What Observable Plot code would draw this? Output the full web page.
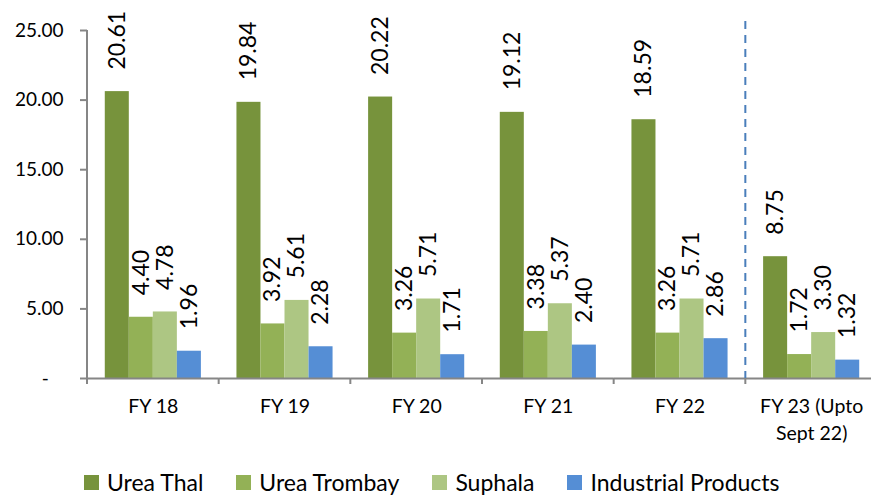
<!DOCTYPE html>
<html><head><meta charset="utf-8">
<script src="https://cdn.jsdelivr.net/npm/d3@7"></script>
<script src="https://cdn.jsdelivr.net/npm/@observablehq/plot@0.6"></script>
<style>
html,body{margin:0;padding:0;background:#fff;overflow:hidden;width:871px;height:496px;}
#chart{position:relative;width:871px;height:496px;}
#chart svg{display:block;}
.legend{position:absolute;left:84px;top:469px;display:flex;align-items:center;font-family:Lato,sans-serif;font-size:23px;color:#000;line-height:26px;white-space:nowrap;}
.legend .item{display:flex;align-items:center;margin-right:33px;}
.legend .sw{width:15px;height:15px;margin-right:8px;flex:none;}
</style></head><body><div id="chart"></div>
<script>
const categories = ["FY 18","FY 19","FY 20","FY 21","FY 22","FY 23 (Upto\nSept 22)"];
const series = ["Urea Thal","Urea Trombay","Suphala","Industrial Products"];
const ureaThal = [20.61,19.84,20.22,19.12,18.59,8.75];
const ureaTrombay = [4.40,3.92,3.26,3.38,3.26,1.72];
const suphala = [4.78,5.61,5.71,5.37,5.71,3.30];
const industrial = [1.96,2.28,1.71,2.40,2.86,1.32];
const colors = ["#77933C","#93B156","#ADC683","#558ED5"];
const yTicks = [0,5,10,15,20,25];

const valuesBySeries = [ureaThal, ureaTrombay, suphala, industrial];
const rows = [];
categories.forEach((cat, i) => {
  series.forEach((s, j) => rows.push({cat, series: s, value: valuesBySeries[j][i]}));
});

const plot = Plot.plot({
  width: 871, height: 452,
  marginLeft: 87, marginRight: -6, marginTop: 30, marginBottom: 74,
  style: {fontFamily: "Lato, sans-serif", fontSize: "19px", color: "#000", background: "#fff", overflow: "visible"},
  fx: {domain: categories, padding: 0, round: false, label: null},
  x: {domain: series, paddingInner: 0, paddingOuter: 0.74, round: false, axis: null},
  y: {domain: [0, 25], label: null},
  color: {domain: series, range: colors},
  marks: [
    Plot.barY(rows, {fx: "cat", x: "series", y: "value", fill: "series"}),
    Plot.ruleY([0], {stroke: "#868686", strokeWidth: 2}),
    Plot.text(rows, {fx: "cat", x: "series", y: "value", text: d => d.value.toFixed(2), rotate: -90, textAnchor: "start", dy: -22, fontSize: 23, fill: "#000"}),
    Plot.axisY({ticks: yTicks, tickFormat: d => d === 0 ? "-\u00a0\u00a0\u00a0" : d.toFixed(2), tickSize: 7, tickPadding: 17, stroke: "#868686", strokeWidth: 2, fontSize: 19, label: null}),
    Plot.axisFx({anchor: "bottom", tickSize: 0, tickPadding: 15, fontSize: 19.5, lineHeight: 1.4, label: null})
  ]
});

const fx = plot.scale("fx"), y = plot.scale("y");
const y0 = y.apply(0), yTop = y.apply(25);
const g = d3.select(plot).append("g");
const x0 = fx.apply(categories[0]);
g.append("line").attr("x1", x0).attr("x2", x0).attr("y1", yTop).attr("y2", y0)
  .attr("stroke", "#868686").attr("stroke-width", 2);
categories.forEach(c => {
  const xb = fx.apply(c);
  g.append("line").attr("x1", xb).attr("x2", xb).attr("y1", y0).attr("y2", y0 + 6)
    .attr("stroke", "#868686").attr("stroke-width", 2);
});
const xd = fx.apply(categories[categories.length - 1]);
g.append("line").attr("x1", xd).attr("x2", xd).attr("y1", yTop - 9).attr("y2", y0)
  .attr("stroke", "#4A7EBB").attr("stroke-width", 2).attr("stroke-dasharray", "8,6");

const chart = document.getElementById("chart");
chart.appendChild(plot);
const legend = document.createElement("div");
legend.className = "legend";
series.forEach((s, i) => {
  const item = document.createElement("div");
  item.className = "item";
  const sw = document.createElement("span");
  sw.className = "sw"; sw.style.background = colors[i];
  const t = document.createElement("span");
  t.textContent = s;
  item.appendChild(sw); item.appendChild(t);
  legend.appendChild(item);
});
chart.appendChild(legend);
</script>
</body></html>
